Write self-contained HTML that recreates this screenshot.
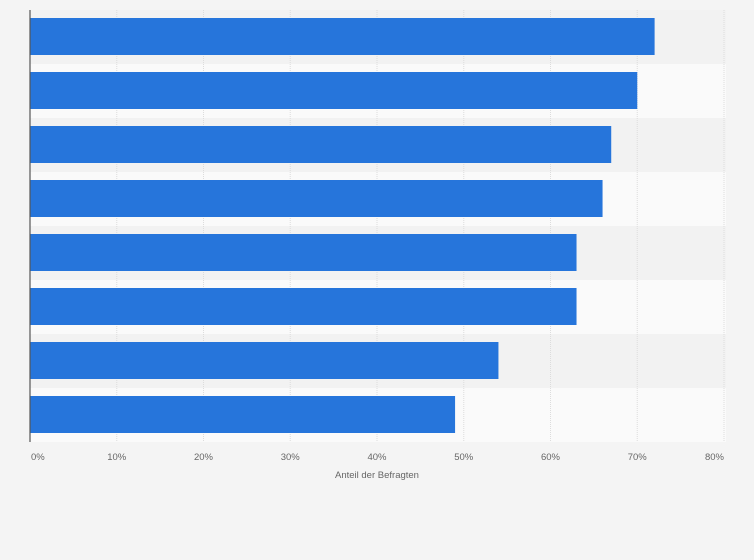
<!DOCTYPE html>
<html><head><meta charset="utf-8"><style>
html,body{margin:0;padding:0;background:#f4f4f4;}
svg{display:block;font-family:"Liberation Sans",sans-serif;}
</style></head><body>
<svg width="754" height="560">
<rect width="754" height="560" fill="#f4f4f4"/>
<g id="bands"></g><g id="grid"></g><g id="bars"></g><g id="ticks"></g>
<line x1="30" y1="10" x2="30" y2="442" stroke="#555" stroke-width="1.2"/>
<text x="377" y="478" text-anchor="middle" font-size="9.5" fill="#666">Anteil der Befragten</text>
</svg>
<script>
const categories = ["A","B","C","D","E","F","G","H"];
const values = [72, 70, 67, 66, 63, 63, 54, 49];
const tickValues = [0,10,20,30,40,50,60,70,80];
const tickLabels = ["0%","10%","20%","30%","40%","50%","60%","70%","80%"];
const NS="http://www.w3.org/2000/svg";
const xStart=30,xEnd=724,topY=10,rowH=54;
const xs=v=>xStart+(v/80)*(xEnd-xStart);
const ys=i=>topY+i*rowH;
function mk(t,a,p){const e=document.createElementNS(NS,t);for(const k in a)e.setAttribute(k,a[k]);document.getElementById(p).appendChild(e);return e;}
categories.forEach((c,i)=>{
  const b=mk('rect',{x:30,y:ys(i),width:696,height:rowH,fill:i%2?'#fafafa':'#f2f2f2'},'bands');
  
  
});
tickValues.forEach((v,i)=>{
  if(i>0){const g=mk('line',{x1:xs(v),x2:xs(v),y1:topY,y2:442,stroke:'#dcdcdc','stroke-dasharray':'1,1'},'grid');
  
  }
  const anchor=i==0?'start':(i==tickValues.length-1?'end':'middle');
  const t=mk('text',{x:i==0?xs(v)+1:xs(v),y:460,'text-anchor':anchor,'font-size':'9.5',fill:'#666'},'ticks');
  t.textContent=tickLabels[i];
  
  
});
values.forEach((v,i)=>{
  const r=mk('rect',{x:xStart,y:ys(i)+8,width:xs(v)-xStart,height:37,fill:'#2675db'},'bars');
  
  
});
</script>
</body></html>
